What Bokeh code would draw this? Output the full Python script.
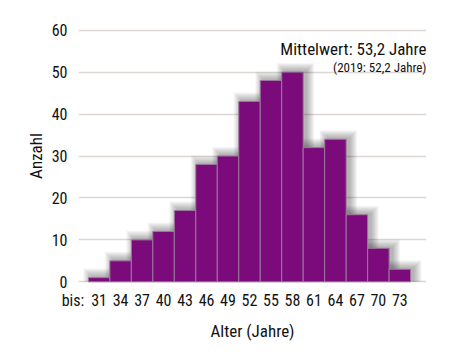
from bokeh.plotting import figure
from bokeh.models import Range1d, FixedTicker, Label
from bokeh.embed import file_html
from bokeh.resources import INLINE

categories = ["31", "34", "37", "40", "43", "46", "49", "52", "55", "58", "61", "64", "67", "70", "73"]
counts = [1, 5, 10, 12, 17, 28, 30, 43, 48, 50, 32, 34, 16, 8, 3]
y_ticks = [0, 10, 20, 30, 40, 50, 60]
title_text = "Mittelwert: 53,2 Jahre"
subtitle_text = "(2019: 52,2 Jahre)"
prefix_text = "bis:"

FONT = "'Roboto Condensed', 'DejaVu Sans Condensed', sans-serif"
PURPLE = "#7b0b7b"
INK = "#111111"

X0, X1 = -0.96, 15.24
xs = list(range(len(categories)))

p = figure(width=466, height=353, output_backend="svg", toolbar_location=None,
           x_range=Range1d(X0, X1), y_range=Range1d(-0.4, 60.4),
           min_border_left=78, min_border_right=40, min_border_top=28, min_border_bottom=70)
p.outline_line_color = None

# soft drop shadow (offset right / up, blurred by stacked translucent layers)
px_x = 1 / 21.5
px_y = 1 / 4.19
for s in range(1, 9):
    p.quad(left=[x - 0.5 + (3 - s) * px_x for x in xs],
           right=[x + 0.5 + (3 + s) * px_x for x in xs],
           bottom=[0] * len(xs),
           top=[c + (1 + s) * px_y for c in counts],
           fill_color="black", fill_alpha=0.04, line_color=None)

p.vbar(x=xs, top=counts, width=1.0, bottom=0, fill_color=PURPLE,
       line_color="#9a7a9a", line_width=1)

p.xaxis.ticker = FixedTicker(ticks=[X0] + xs)
overrides = {i: c for i, c in enumerate(categories)}
overrides[X0] = prefix_text + "\u00a0\u00a0\u00a0"
p.xaxis.major_label_overrides = overrides
p.yaxis.ticker = FixedTicker(ticks=y_ticks)

for ax in (p.xaxis[0], p.yaxis[0]):
    ax.axis_line_color = None
    ax.major_tick_line_color = None
    ax.minor_tick_line_color = None
    ax.major_label_text_font = FONT
    ax.major_label_text_font_size = "16px"
    ax.major_label_text_color = INK
    ax.axis_label_text_font = FONT
    ax.axis_label_text_font_size = "17px"
    ax.axis_label_text_font_style = "normal"
    ax.axis_label_text_color = INK

p.xaxis.axis_label = "Alter (Jahre)"
p.yaxis.axis_label = "Anzahl"
p.xaxis.major_label_standoff = 1
p.xaxis.axis_label_standoff = 8
p.yaxis.major_label_standoff = 5
p.yaxis.axis_label_standoff = 3

p.xgrid.grid_line_color = None
p.ygrid.ticker = FixedTicker(ticks=y_ticks)
p.ygrid.grid_line_color = "#ddd8d4"
p.ygrid.grid_line_width = 1.5

p.add_layout(Label(x=X1, y=55.4, text=title_text, text_align="right", text_baseline="alphabetic",
                   text_font=FONT, text_font_size="17px", text_color=INK))
p.add_layout(Label(x=X1, y=51.2, text=subtitle_text, text_align="right", text_baseline="alphabetic",
                   text_font=FONT, text_font_size="13px", text_color=INK))

open("out.html", "w").write(file_html(p, INLINE))
